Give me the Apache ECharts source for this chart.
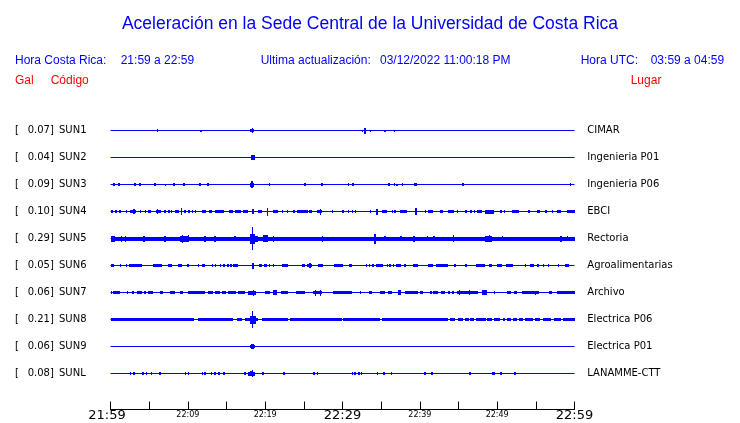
<!DOCTYPE html>
<html>
<head>
<meta charset="utf-8">
<script src="https://cdn.jsdelivr.net/npm/echarts@6/dist/echarts.min.js"></script>
<style>html,body{margin:0;padding:0;background:#fff}#c{width:740px;height:423px}</style>
</head>
<body>
<div id="c"></div>
<script>
// ---------- data ----------
const TITLE = 'Aceleración en la Sede Central de la Universidad de Costa Rica';
const HEADER_CR = ['Hora Costa Rica:', '21:59 a 22:59'];
const HEADER_UPD = ['Ultima actualización:', '03/12/2022 11:00:18 PM'];
const HEADER_UTC = ['Hora UTC:', '03:59 a 04:59'];
const COL_HEADS = ['Gal', 'Código', 'Lugar'];

const STATIONS = ['SUN1','SUN2','SUN3','SUN4','SUN5','SUN6','SUN7','SUN8','SUN9','SUNL'];
const PEAKS = ['0.07','0.04','0.09','0.10','0.29','0.05','0.06','0.21','0.06','0.08'];
const PLACES = ['CIMAR','Ingenieria P01','Ingenieria P06','EBCI','Rectoria','Agroalimentarias','Archivo','Electrica P06','Electrica P01','LANAMME-CTT'];

// minutes after 21:59
const TIME_RANGE = [0, 60];
const TICK_LABELS = {0:'21:59', 10:'22:09', 20:'22:19', 30:'22:29', 40:'22:39', 50:'22:49', 60:'22:59'};
const MAJOR_TICKS = [0, 30, 60];

// bursts: [tStart, tEnd, amplitude]  or [t, amplitude] for a single spike
const SUN1 = [[5.0,0.8],[6.0,1.5],[11.6,1],[12.8,0.6],[17.3,0.8],[18.1,18.5,1.3],[18.25,2.5],[18.8,0.8],[28.3,0.6],[32.5,1],[32.8,3],[33.5,1],[35.4,1],[36.6,1],[53.6,0.6]];
const SUN2 = [[18.15,18.65,2.3]];
const SUN3 = [[0.35,1.3],[0.99,1.3],[3.06,1.3],[3.71,1.3],[5.65,1.3],[6.6,0.8],[7.03,1.0],[8.11,1.3],[9.4,1.3],[11.48,1.3],[12.51,1.3],[18.0,18.6,2],[18.15,18.4,3.5],[20.45,1.5],[25.07,1.3],[27.2,27.45,1.3],[28.17,0.8],[29.08,0.8],[30.67,1.3],[31.28,1.3],[34.9,0.8],[35.94,1.3],[36.67,1.3],[36.97,1.0],[37.66,1.3],[39.2,39.6,1.5],[45.47,1.3],[55.87,0.8],[59.36,1.3]];
const SUN4 = [[0,0.3,1.5],[0.56,0.86,1.5],[1.16,1.42,1.5],[1.98,1.5],[2.5,3.36,1.5],[2.93,2.5],[3.8,1.5],[4.44,1.5],[4.87,1.5],[5.09,1.5],[5.87,6.51,1.8],[6.0,2.5],[6.95,1.5],[7.46,1.5],[7.77,1.5],[8.33,8.84,1.5],[9.1,9.28,3.5],[9.53,1.5],[10.05,1.5],[10.48,1.5],[10.91,1.5],[11.86,12.3,1.5],[12.73,13.07,1.5],[13.5,14.62,1.5],[15.32,15.88,1.5],[16.09,16.87,1.5],[17.08,17.82,1.5],[18.25,18.59,2.5],[19.11,19.63,1.5],[20.2,20.4,4],[21.05,21.7,1.5],[22.13,1.5],[22.78,1.5],[23.64,1.5],[24.07,25.5,1.5],[25.67,26.01,1.5],[26.75,27.31,1.5],[27.1,3],[28.6,1.5],[29.9,30.24,1.5],[30.67,1.5],[31.19,1.5],[31.62,1.5],[33.56,1.5],[34.3,34.56,3],[35.07,35.72,1.5],[36.37,1.5],[36.71,1.5],[37.45,38.31,1.5],[39.39,39.6,3.5],[40.68,1.5],[41.11,41.76,1.5],[42.62,43.05,1.5],[43.7,44.48,1.5],[44.78,1.5],[45.86,1.5],[46.51,1.5],[46.94,1.5],[47.37,48.02,1.5],[48.45,49.53,2],[50.39,1.5],[50.82,1.5],[51.9,52.76,1.5],[54.05,1.5],[55.13,55.57,1.5],[56.21,1.5],[57.07,1.5],[57.72,58.28,1.5],[59.02,60,1.5]];
const SUN5 = [[0,60,2],[0,0.56,3],[1.34,3],[1.86,3],[4.23,3],[6.95,7.16,3],[8.97,10.05,3],[9.19,4],[9.97,3.5],[12.12,3],[13.42,3],[16.0,2.7],[18.1,18.7,5],[18.25,18.45,11.7],[18.68,19.11,3],[19.76,20.41,3.5],[20.97,3],[27.31,27.52,3],[34.12,34.3,5],[35.42,2.7],[37.45,2.7],[39.17,39.39,3],[40.9,2.7],[41.76,2.7],[44.26,44.43,3.5],[48.45,49.31,3],[48.9,3.5],[50.6,2.7],[58.15,3],[59.02,2.7]];
const SUN6 = [[0,0.47,1.5],[1.21,1.42,1.5],[1.94,1.5],[2.37,4.01,1.5],[5.52,6.6,1.5],[7.46,7.89,1.5],[8.76,9.19,1.5],[9.84,10.14,1.5],[11.26,1.5],[11.78,12.21,1.5],[13.07,1.5],[13.5,1.5],[14.15,1.5],[14.6,1.5],[15.1,1.5],[15.5,1.5],[15.8,16.44,1.5],[18.25,18.55,3],[19.24,19.54,1.5],[19.84,20.19,1.5],[20.49,1.5],[20.97,21.18,1.5],[22.13,22.91,1.5],[24.8,25.15,1.5],[25.45,26.01,1.5],[25.7,2.5],[26.88,27.52,1.5],[28.9,30.11,1.5],[30.89,31.19,1.5],[33.0,1.5],[33.43,1.5],[33.86,1.5],[34.3,35.2,1.5],[35.72,1.5],[36.07,1.5],[36.5,1.5],[36.93,37.58,1.5],[38.0,1.5],[39.17,39.82,1.5],[41.11,41.76,1.5],[42.1,43.7,1.5],[44.48,1.5],[45.86,1.5],[47.28,48.45,1.5],[49.0,49.31,1.5],[50.04,50.6,1.5],[51.16,52.11,1.5],[53.54,1.5],[54.27,54.7,1.5],[55.13,55.35,1.5],[55.91,1.5],[56.56,1.5],[57.85,1.5],[58.71,59.23,1.5]];
const SUN7 = [[0,0.13,1.5],[0.35,1.21,1.5],[2.07,1.5],[2.8,1.5],[3.49,4.01,1.5],[4.36,1.5],[4.87,5.52,1.5],[6.38,6.82,1.5],[7.68,8.33,1.5],[8.97,9.4,1.5],[10.05,12.21,1.5],[12.64,13.29,1.5],[13.5,14.15,1.5],[14.37,14.88,1.5],[15.23,16.18,1.5],[16.44,17.39,1.5],[17.82,18.77,2],[18.42,3],[19.97,20.62,1.5],[21.05,21.48,2.5],[22.0,22.99,1.5],[23.94,25.15,1.5],[26.23,27.31,1.5],[26.4,3],[27.1,3],[28.82,31.19,1.5],[32.27,1.5],[33.48,33.78,1.5],[34.86,35.5,1.5],[35.94,36.37,1.5],[37.23,37.58,2.5],[38.09,39.82,1.5],[40.03,40.46,1.5],[41.33,1.5],[41.76,42.41,1.5],[42.75,43.27,1.5],[43.7,1.5],[44.22,1.5],[44.78,47.58,1.5],[45.0,2.5],[46.3,2.5],[48.02,48.66,2.5],[49.53,1.5],[51.25,51.81,1.5],[52.2,52.54,1.5],[53.19,55.35,1.5],[54.9,2],[56.64,1.5],[56.86,1.5],[57.72,60,1.5]];
const SUN8 = [[0,10.83,1.5],[11.35,15.88,1.5],[16.31,16.95,1.5],[17.39,19.11,1.5],[18.0,18.8,4],[18.25,18.4,8.5],[19.54,22.99,1.5],[23.21,29.9,1.5],[30.11,34.86,1.5],[35.07,43.7,1.5],[43.9,44.6,1.5],[44.9,45.6,1.5],[45.9,46.3,1.5],[46.5,47.0,1.5],[47.3,48.5,1.5],[48.7,49.3,1.5],[49.6,50.4,1.5],[50.8,51.0,1.5],[51.3,51.8,1.5],[52.1,52.5,1.5],[52.8,53.3,1.5],[53.6,54.6,1.5],[54.9,55.6,1.5],[55.9,57.0,1.5],[57.3,58.2,1.5],[58.5,60,1.5]];
const SUN9 = [[18.1,18.65,1.8],[18.2,18.55,2.8]];
const SUNL = [[2.5,1.2],[2.93,1.2],[4.1,1.2],[4.53,1.2],[5.18,1.2],[6.3,1.2],[9.62,1.2],[9.97,1.2],[11.78,1.2],[12.12,1.2],[12.99,1.2],[13.42,1.2],[13.93,1.2],[14.58,1.2],[17.3,1.2],[17.82,18.68,2],[18.1,2.5],[18.29,3.7],[19.63,1.2],[22.35,22.56,1.7],[26.23,1.2],[26.66,1.2],[31.19,1.2],[31.53,1.2],[32.05,1.2],[32.4,1.2],[34.43,1.2],[35.29,1.2],[36.28,1.2],[40.59,1.2],[41.46,1.2],[46.42,1.2],[49.31,49.74,1.7],[50.39,1.2],[52.24,1.2]];
const TRACES = [SUN1, SUN2, SUN3, SUN4, SUN5, SUN6, SUN7, SUN8, SUN9, SUNL];

// ---------- styles ----------
const BLUE = '#0000ff';
const RED = '#ff0000';
const GAIN = 1 / 27;       // amplitude units -> row units
const SPIKE_W = 0.18;      // minutes width of a single spike
const HFONT = '"Liberation Sans", Arial, sans-serif';
const DFONT = '"DejaVu Sans", sans-serif';

const chart = echarts.init(document.getElementById('c'), null, {renderer: 'canvas'});

function renderItem(params, api) {
  const t0 = api.value(0), t1 = api.value(1), row = api.value(2), a = api.value(3) * GAIN;
  const pa = api.coord([t0, row - a]);
  const pb = api.coord([t1, row + a]);
  const x0 = Math.round(pa[0]);
  const x1 = Math.max(x0 + 1, Math.round(pb[0]));
  const y0 = Math.round(Math.min(pa[1], pb[1]));
  const y1 = Math.max(y0 + 1, Math.round(Math.max(pa[1], pb[1])));
  return {type: 'rect', shape: {x: x0, y: y0, width: x1 - x0, height: y1 - y0}, style: {fill: BLUE}, silent: true};
}

const series = [];
TRACES.forEach((tr, i) => {
  const row = i + 1;
  series.push({
    type: 'line', silent: true, symbol: 'none', animation: false,
    lineStyle: {color: BLUE, width: 1},
    data: [[TIME_RANGE[0], row], [TIME_RANGE[1], row]]
  });
  series.push({
    type: 'custom', silent: true, animation: false, renderItem,
    encode: {x: [0, 1], y: 2},
    data: tr.map(b => b.length === 2 ? [b[0], b[0] + SPIKE_W, row, b[1]] : [b[0], b[1], row, b[2]])
  });
});

const yCommon = {
  type: 'value', inverse: true, min: 0, max: 11.333, interval: 1,
  axisLine: {show: false}, axisTick: {show: false}, splitLine: {show: false}
};

const option = {
  animation: false,
  backgroundColor: '#ffffff',
  title: {
    text: TITLE, left: 'center', top: 10,
    textStyle: {color: BLUE, fontFamily: HFONT, fontSize: 17.5, fontWeight: 'normal'}
  },
  grid: {left: 110.5, width: 464, top: 103.5, height: 306, containLabel: false},
  xAxis: {
    type: 'value', position: 'bottom', min: TIME_RANGE[0], max: TIME_RANGE[1], interval: 5,
    axisLine: {show: true, onZero: false, lineStyle: {color: '#000', width: 1}},
    axisTick: {show: true, inside: true, length: 8, lineStyle: {color: '#000', width: 1}},
    splitLine: {show: false},
    axisLabel: {
      margin: 0, showMinLabel: true, showMaxLabel: true,
      formatter: v => {
        const t = TICK_LABELS[v];
        if (!t) return '';
        if (v === TIME_RANGE[0]) return '{f|' + t + '}';
        return MAJOR_TICKS.includes(v) ? '{b|' + t + '}' : '{s|' + t + '}';
      },
      rich: {
        f: {fontFamily: DFONT, fontSize: 13, lineHeight: 13, color: '#000', padding: [0, 7, 0, 0]},
        b: {fontFamily: DFONT, fontSize: 13, lineHeight: 13, color: '#000'},
        s: {fontFamily: DFONT, fontSize: 8, lineHeight: 11, color: '#000'}
      }
    }
  },
  yAxis: [
    Object.assign({}, yCommon, {
      position: 'left',
      axisLabel: {
        margin: 95.5, align: 'left',
        formatter: v => {
          const i = Math.round(v) - 1;
          if (Math.abs(v - Math.round(v)) > 1e-6 || i < 0 || i >= STATIONS.length) return '';
          return '{a|[}{v|' + PEAKS[i] + ']}{n|' + STATIONS[i] + '}';
        },
        rich: {
          a: {fontFamily: DFONT, fontSize: 10, color: '#000', width: 12.7},
          v: {fontFamily: DFONT, fontSize: 10, color: '#000', width: 31.3},
          n: {fontFamily: DFONT, fontSize: 10, color: '#000'}
        }
      }
    }),
    Object.assign({}, yCommon, {
      position: 'right',
      axisLabel: {
        margin: 12.8, align: 'left', fontFamily: DFONT, fontSize: 10, color: '#000',
        formatter: v => {
          const i = Math.round(v) - 1;
          if (Math.abs(v - Math.round(v)) > 1e-6 || i < 0 || i >= PLACES.length) return '';
          return PLACES[i];
        }
      }
    })
  ],
  graphic: [
    {type: 'text', x: 15, y: 61, style: {text: HEADER_CR[0], fill: BLUE, font: '12px ' + HFONT, verticalAlign: 'middle'}},
    {type: 'text', x: 120.7, y: 61, style: {text: HEADER_CR[1], fill: BLUE, font: '12px ' + HFONT, verticalAlign: 'middle'}},
    {type: 'text', x: 260.7, y: 61, style: {text: HEADER_UPD[0], fill: BLUE, font: '12px ' + HFONT, verticalAlign: 'middle'}},
    {type: 'text', x: 380, y: 61, style: {text: HEADER_UPD[1], fill: BLUE, font: '12px ' + HFONT, verticalAlign: 'middle'}},
    {type: 'text', x: 580.7, y: 61, style: {text: HEADER_UTC[0], fill: BLUE, font: '12px ' + HFONT, verticalAlign: 'middle'}},
    {type: 'text', x: 650.7, y: 61, style: {text: HEADER_UTC[1], fill: BLUE, font: '12px ' + HFONT, verticalAlign: 'middle'}},
    {type: 'text', x: 15, y: 81, style: {text: COL_HEADS[0], fill: RED, font: '12px ' + HFONT, verticalAlign: 'middle'}},
    {type: 'text', x: 50.7, y: 81, style: {text: COL_HEADS[1], fill: RED, font: '12px ' + HFONT, verticalAlign: 'middle'}},
    {type: 'text', x: 630.7, y: 81, style: {text: COL_HEADS[2], fill: RED, font: '12px ' + HFONT, verticalAlign: 'middle'}}
  ],
  series
};
series.forEach(s => { s.xAxisIndex = 0; s.yAxisIndex = 0; });
chart.setOption(option);
</script>
</body>
</html>
